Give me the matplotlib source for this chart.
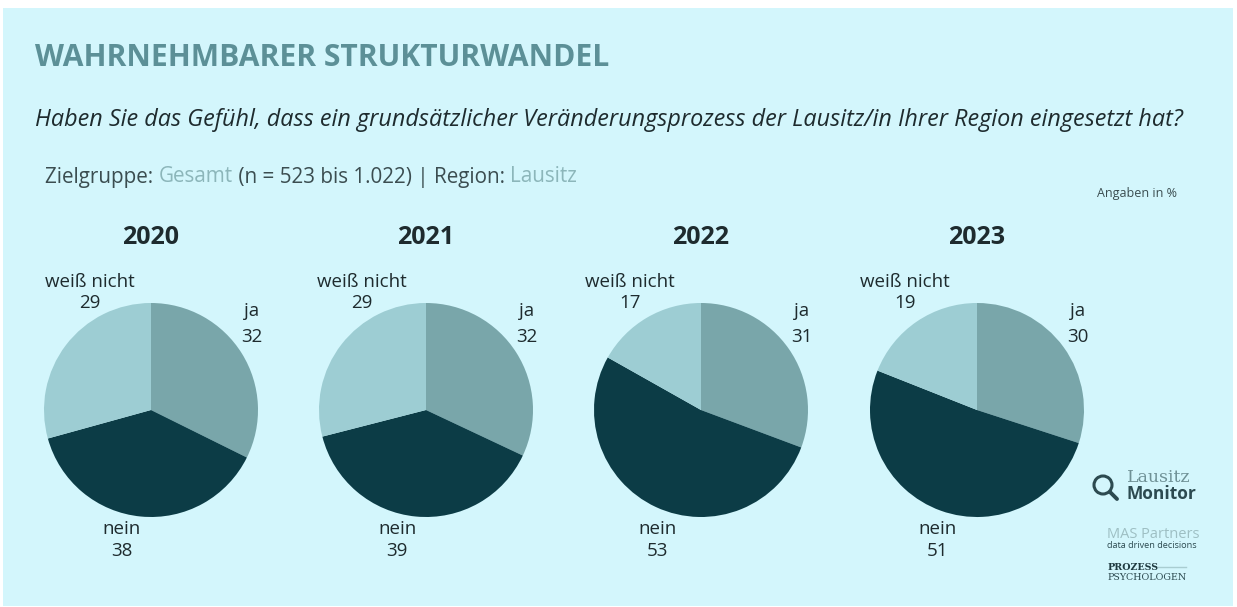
"""Recreate the 'Wahrnehmbarer Strukturwandel' pie chart panel."""

import matplotlib

matplotlib.use("Agg")
import matplotlib.pyplot as plt
from matplotlib.patches import Circle, Rectangle

# data (Angaben in %)
years = ["2020", "2021", "2022", "2023"]
categories = ["ja", "nein", "weiß nicht"]
ja = [32, 32, 31, 30]
nein = [38, 39, 53, 51]
weiss_nicht = [29, 29, 17, 19]

W, H = 1237, 607
BG = "#d3f6fc"
COLORS = ["#79a6aa", "#0c3c46", "#9dcdd3"]
TEXT = "#1e2b2e"
LIGHT = "#8cb6ba"

plt.rcParams["font.family"] = ["Open Sans", "DejaVu Sans"]

fig = plt.figure(figsize=(W / 100, H / 100), dpi=100)
fig.patch.set_facecolor("white")
bg = fig.add_axes([0, 0, 1, 1])
bg.set_xlim(0, W)
bg.set_ylim(H, 0)
bg.axis("off")
bg.add_patch(Rectangle((3, 8), W - 7, 598, facecolor=BG, edgecolor="none"))

bg.text(35, 58, "WAHRNEHMBARER STRUKTURWANDEL", fontsize=21.6, fontweight="bold",
        color="#5c9097", va="center", ha="left")
bg.text(35, 120, "Haben Sie das Gefühl, dass ein grundsätzlicher Veränderungsprozess "
        "der Lausitz/in Ihrer Region eingesetzt hat?", fontsize=16.8, style="italic",
        color=TEXT, va="center", ha="left")

# multi-coloured subtitle line
fig.canvas.draw()
renderer = fig.canvas.get_renderer()
x = 45
for piece, col in [("Zielgruppe: ", "#3b4d50"), ("Gesamt", LIGHT),
                   (" (n = 523 bis 1.022) | Region: ", "#3b4d50"), ("Lausitz", LIGHT)]:
    t = bg.text(x, 177, piece, fontsize=14.9, color=col, va="center", ha="left")
    bb = t.get_window_extent(renderer)
    x += bb.width
bg.text(1177, 193, "Angaben in %", fontsize=9, color="#3b4d50", va="center", ha="right")

centers = [151, 426, 701, 977]
cy, r = 410, 107
# label offsets from the pie centre: (weiß nicht dx, nein dx)
label_dx = [(-61, -29), (-64, -29), (-71, -44), (-72, -40)]

for i, year in enumerate(years):
    cx = centers[i]
    ax = fig.add_axes([(cx - r) / W, 1 - (cy + r) / H, 2 * r / W, 2 * r / H])
    vals = [ja[i], nein[i], weiss_nicht[i]]
    ax.pie(vals, colors=COLORS, startangle=90, counterclock=False,
           wedgeprops=dict(linewidth=0))
    ax.set_xlim(-1, 1)
    ax.set_ylim(-1, 1)
    ax.set_aspect("equal")
    ax.axis("off")

    bg.text(cx, 238, year, fontsize=18, fontweight="bold", color=TEXT,
            ha="center", va="center")
    wdx, ndx = label_dx[i]
    lab = dict(fontsize=13.5, color=TEXT, ha="center", va="center")
    bg.text(cx + wdx, 282, categories[2], **lab)
    bg.text(cx + wdx, 303, str(weiss_nicht[i]), **lab)
    bg.text(cx + 101, 311, categories[0], **lab)
    bg.text(cx + 101, 337, str(ja[i]), **lab)
    bg.text(cx + ndx, 529, categories[1], **lab)
    bg.text(cx + ndx, 551, str(nein[i]), **lab)

# logos as text
bg.add_patch(Circle((1103, 485), 9, facecolor="none", edgecolor="#2c4a50", linewidth=2.2))
bg.plot([1110, 1117], [492, 499], color="#2c4a50", linewidth=2.8, solid_capstyle="round")
bg.text(1127, 477, "Lausitz", fontsize=12.5, family="DejaVu Serif", color="#6f9196",
        ha="left", va="center")
bg.text(1126, 494, "Monitor", fontsize=12.5, fontweight="bold", color="#2c4a50",
        ha="left", va="center")
bg.text(1107, 534, "MAS Partners", fontsize=10.5, color="#9ebfc3", ha="left", va="center")
bg.text(1107, 545, "data driven decisions", fontsize=6.6, color="#2c4a50",
        ha="left", va="center")
bg.text(1108, 567, "PROZESS", fontsize=6.8, fontweight="bold", family="DejaVu Serif",
        color="#1f3a40", ha="left", va="center")
bg.plot([1158, 1186], [567, 567], color="#a9cdd1", linewidth=1)
bg.text(1108, 577, "PSYCHOLOGEN", fontsize=6.8, family="DejaVu Serif",
        color="#2c4a50", ha="left", va="center")

fig.savefig("out.png", dpi=100, facecolor=fig.get_facecolor())
